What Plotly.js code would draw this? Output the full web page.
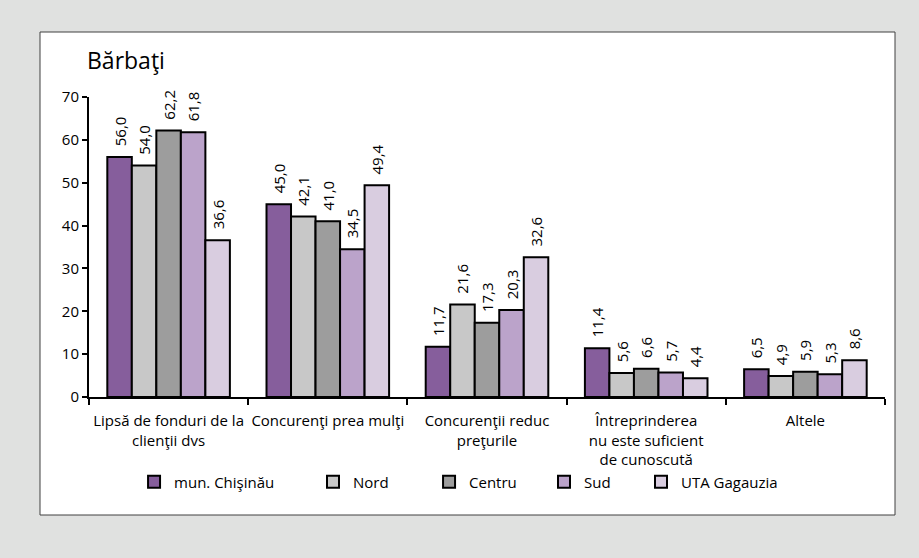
<!DOCTYPE html>
<html>
<head>
<meta charset="utf-8">
<script src="https://cdn.plot.ly/plotly-3.0.1.min.js"></script>
<style>html,body{margin:0;padding:0;background:#e0e1e0;}#chart{width:919px;height:558px;}</style>
</head>
<body>
<div id="chart"></div>
<script>
const categories = [
  "Lipsă de fonduri de la<br>clienţii dvs",
  "Concurenţi prea mulţi",
  "Concurenţii reduc<br>preţurile",
  "Întreprinderea<br>nu este suficient<br>de cunoscută",
  "Altele"
];
const seriesNames = ["mun. Chişinău", "Nord", "Centru", "Sud", "UTA Gagauzia"];
const chisinau = [56.0, 45.0, 11.7, 11.4, 6.5];
const nord = [54.0, 42.1, 21.6, 5.6, 4.9];
const centru = [62.2, 41.0, 17.3, 6.6, 5.9];
const sud = [61.8, 34.5, 20.3, 5.7, 5.3];
const gagauzia = [36.6, 49.4, 32.6, 4.4, 8.6];
const yTicks = [0, 10, 20, 30, 40, 50, 60, 70];

const seriesValues = [chisinau, nord, centru, sud, gagauzia];
const colors = ["#865e9c", "#c8c8c8", "#9d9d9d", "#bba3ca", "#d9cde0"];
const legendIds = ["legend", "legend2", "legend3", "legend4", "legend5"];
const legendX = [0.0566, 0.2814, 0.4272, 0.5716, 0.6935];
const FONT = "Open Sans, Noto Sans, sans-serif";
const FS = 15;

const traces = seriesValues.map((vals, i) => ({
  type: "bar",
  name: seriesNames[i],
  x: categories,
  y: vals,
  legend: legendIds[i],
  showlegend: true,
  marker: {color: colors[i], line: {color: "#000", width: 2}},
  texttemplate: "\u00a0\u00a0%{y:.1f}",
  textposition: "outside",
  textangle: -90,
  constraintext: "none",
  cliponaxis: false,
  outsidetextfont: {family: FONT, size: FS, color: "#000"},
  hoverinfo: "none"
}));

const layout = {
  width: 919, height: 558,
  showlegend: true,
  paper_bgcolor: "#e0e1e0",
  plot_bgcolor: "#ffffff",
  separators: ",.",
  font: {family: FONT, size: FS, color: "#000"},
  margin: {l: 89, r: 34, t: 97, b: 161, pad: 0},
  barmode: "group",
  bargap: 0.23,
  bargroupgap: 0,
  title: {
    text: "Bărbaţi",
    font: {family: FONT, size: 23, color: "#000"},
    x: 87 / 919, xanchor: "left", xref: "container",
    y: 1 - 61 / 558, yanchor: "middle", yref: "container"
  },
  xaxis: {
    type: "category",
    tickangle: 0,
    ticklabelstandoff: 9,
    showline: true, linecolor: "#000", linewidth: 2,
    ticks: "outside", tickson: "boundaries", ticklen: 6, tickwidth: 2, tickcolor: "#000",
    showgrid: false, zeroline: false,
    tickfont: {family: FONT, size: FS, color: "#000"},
    automargin: false
  },
  yaxis: {
    range: [0, 70],
    tickvals: yTicks,
    showline: true, linecolor: "#000", linewidth: 2,
    ticks: "outside", ticklen: 5, tickwidth: 2, tickcolor: "#000",
    showgrid: false, zeroline: false,
    tickfont: {family: FONT, size: FS, color: "#000"},
    automargin: false
  },
  shapes: [{
    type: "rect", xref: "paper", yref: "paper", layer: "below",
    x0: (40 - 89) / 796, x1: (895 - 89) / 796,
    y0: (397 - 515) / 300, y1: (397 - 32) / 300,
    fillcolor: "#ffffff", line: {color: "#404040", width: 1}
  }]
};

legendIds.forEach((id, i) => {
  layout[id] = {
    orientation: "h",
    x: legendX[i], xanchor: "left",
    y: (397 - 482) / 300, yanchor: "middle",
    bgcolor: "rgba(0,0,0,0)",
    font: {family: FONT, size: FS, color: "#000"},
    itemclick: false, itemdoubleclick: false
  };
});

Plotly.newPlot("chart", traces, layout, {displayModeBar: false, staticPlot: true});
</script>
</body>
</html>
